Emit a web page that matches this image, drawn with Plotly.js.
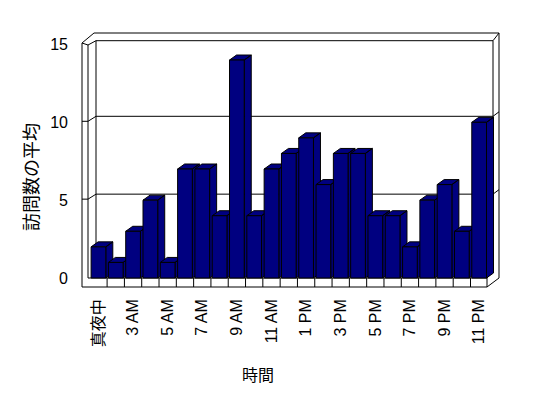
<!DOCTYPE html>
<html><head><meta charset="utf-8">
<script src="https://cdn.plot.ly/plotly-3.0.1.min.js"></script>
<style>html,body{margin:0;padding:0;background:#fff;}</style>
</head><body><div id="chart" style="width:548px;height:398px;"></div>
<script>
// ---- data ----
const categories = ['真夜中','1 AM','3 AM','4 AM','5 AM','6 AM','7 AM','8 AM','9 AM','10 AM','11 AM','12 PM','1 PM','2 PM','3 PM','4 PM','5 PM','6 PM','7 PM','8 PM','9 PM','10 PM','11 PM'];
const values = [2,1,3,5,1,7,7,4,14,4,7,8,9,6,8,8,4,4,2,5,6,3,10];
const yTicks = [0,5,10,15];
const yTitle = '訪問数の平均';
const xTitle = '時間';

// ---- geometry (pixels) ----
const PX0 = 80, PX1 = 502, PY0 = 31, PY1 = 289;   // plot area
const CAT0 = 89.8, KX = 398 / 23;                 // px of category -0.5, px per category
const BASE = 278, KY = 15.57;                      // px of value 0, px per unit
const X = px => -0.5 + (px - CAT0) / KX;
const Y = py => (BASE - py) / KY;
const pxOfV = v => BASE - KY * v;
const xRange = [X(PX0), X(PX1)];
const yRange = [Y(PY1), Y(PY0)];
const W = 0.85, DX = 7 / KX, DY = 5 / KY;
const NAVY = '#000080';

const idx = categories.map((_, i) => i);

// side + top faces, one trace per bar (painter's order left to right)
const faceTraces = values.map((v, i) => {
  const l = i - W / 2, r = i + W / 2;
  return {
    type: 'scatter', mode: 'lines', xaxis: 'x', yaxis: 'y',
    x: [r, r, r + DX, r + DX, r, null, l, l + DX, r + DX, r, l],
    y: [0, v, v + DY, DY, 0, null, v, v + DY, v + DY, v, v],
    fill: 'toself', fillcolor: NAVY, line: {color: '#000', width: 1},
    hoverinfo: 'skip', showlegend: false
  };
});

// front faces
const barTrace = {
  type: 'bar', x: idx, y: values, width: W, xaxis: 'x2', yaxis: 'y2',
  marker: {color: NAVY, line: {color: '#000', width: 1}},
  hoverinfo: 'skip', showlegend: false
};

// ---- frame shapes ----
function path(pts, close) {
  return pts.map((p, k) => (k ? 'L' : 'M') + X(p[0]).toFixed(4) + ',' + Y(p[1]).toFixed(4)).join(' ') + (close ? ' Z' : '');
}
const LINE = {color: '#000', width: 1};
const shapes = [];
function addPath(pts, close) {
  shapes.push({type: 'path', xref: 'x', yref: 'y', layer: 'below', path: path(pts, close), line: LINE});
}
addPath([[82,287],[82,43],[94,33],[499,33],[499,278],[487,287]], true);
addPath([[82,43],[88,45],[88,278],[487,278],[487,287]]);
addPath([[88,45],[96,40.7],[493,40.7],[499,33]]);
addPath([[96,40.7],[96,272],[493,272]]);
addPath([[493,40.7],[493,272],[487,278]]);
yTicks.filter(v => v > 0 && v < 15).forEach(v => {
  const yf = pxOfV(v) - 1, yb = pxOfV(v) - 6;
  addPath([[82,yf],[88,yf],[96,yb],[493,yb],[499,yb - 4.5]]);
});
// floor divisions between categories
for (let k = 0; k < categories.length - 1; k++) {
  shapes.push({type: 'line', xref: 'x', yref: 'y', layer: 'below',
    x0: k + 0.5, x1: k + 0.5, y0: Y(278), y1: Y(287), line: LINE});
}

const tickIdx = idx.filter(i => i % 2 === 0);
const tickText = tickIdx.map(i => categories[i]);

const FONT = 'Liberation Sans, Arial, Noto Sans CJK JP, sans-serif';
const axBase = {showgrid: false, zeroline: false, showline: false, fixedrange: true};
const layout = {
  width: 548, height: 398,
  margin: {l: PX0, r: 548 - PX1, t: PY0, b: 398 - PY1, pad: 0},
  paper_bgcolor: '#fff', plot_bgcolor: 'rgba(0,0,0,0)',
  font: {family: FONT, size: 16, color: '#000'},
  showlegend: false, bargap: 0,
  xaxis: Object.assign({}, axBase, {type: 'linear', range: xRange,
    tickmode: 'array', tickvals: tickIdx, ticktext: tickText, tickangle: -90,
    ticks: '', ticklabelstandoff: 6, tickfont: {family: FONT, size: 16, color: '#000'}}),
  yaxis: Object.assign({}, axBase, {range: yRange, tickmode: 'array', tickvals: yTicks,
    ticks: '', ticklabelstandoff: 11, tickfont: {family: FONT, size: 16, color: '#000'}}),
  xaxis2: Object.assign({}, axBase, {overlaying: 'x', range: xRange, visible: false}),
  yaxis2: Object.assign({}, axBase, {overlaying: 'y', range: yRange, visible: false}),
  shapes: shapes,
  annotations: [
    {text: yTitle, xref: 'paper', yref: 'paper', x: (30 - PX0) / (PX1 - PX0), y: (PY1 - 177) / (PY1 - PY0),
     xanchor: 'center', yanchor: 'middle', textangle: -90, showarrow: false,
     font: {family: 'Noto Sans CJK JP, sans-serif', size: 18, color: '#000'}},
    {text: xTitle, xref: 'paper', yref: 'paper', x: (257.5 - PX0) / (PX1 - PX0), y: (PY1 - 374) / (PY1 - PY0),
     xanchor: 'center', yanchor: 'middle', showarrow: false,
     font: {family: 'Noto Sans CJK JP, sans-serif', size: 16, color: '#000'}}
  ]
};
Plotly.newPlot('chart', faceTraces.concat([barTrace]), layout, {staticPlot: true, displayModeBar: false});
</script></body></html>
